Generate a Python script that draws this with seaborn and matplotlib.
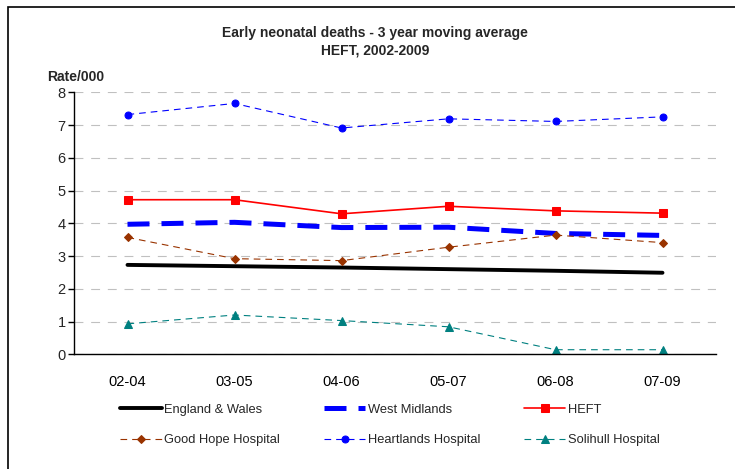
import numpy as np
import pandas as pd
import matplotlib
matplotlib.use("Agg")
import matplotlib.pyplot as plt
from matplotlib.patches import Rectangle
import seaborn as sns

periods = ["02-04", "03-05", "04-06", "05-07", "06-08", "07-09"]

england_wales = [2.73, 2.69, 2.65, 2.60, 2.55, 2.49]
west_midlands = [3.97, 4.03, 3.87, 3.88, 3.69, 3.63]
heft = [4.72, 4.72, 4.29, 4.52, 4.38, 4.31]
good_hope = [3.57, 2.92, 2.86, 3.27, 3.64, 3.41]
heartlands = [7.32, 7.66, 6.91, 7.19, 7.11, 7.25]
solihull = [0.93, 1.20, 1.03, 0.84, 0.14, 0.14]

df = pd.DataFrame({
    "period": periods,
    "England & Wales": england_wales,
    "West Midlands": west_midlands,
    "HEFT": heft,
    "Good Hope Hospital": good_hope,
    "Heartlands Hospital": heartlands,
    "Solihull Hospital": solihull,
})

# style per series: colour, width, dashes, marker, marker size
styles = {
    "England & Wales": dict(color="black", lw=2.8, dashes=None, marker=None, ms=0),
    "West Midlands": dict(color="#0000FF", lw=3.6, dashes=(4.4, 2.4), marker=None, ms=0),
    "HEFT": dict(color="#FF0000", lw=1.2, dashes=None, marker="s", ms=5.5),
    "Good Hope Hospital": dict(color="#993300", lw=0.8, dashes=(6, 4.5), marker="D", ms=3.8),
    "Heartlands Hospital": dict(color="#0000FF", lw=0.8, dashes=(6, 4.5), marker="o", ms=5),
    "Solihull Hospital": dict(color="#008080", lw=0.8, dashes=(6, 4.5), marker="^", ms=5.5),
}

sns.set_style("white")
plt.rcParams["font.family"] = ["Liberation Sans", "DejaVu Sans"]

fig = plt.figure(figsize=(7.35, 4.69), dpi=100)
ax = fig.add_axes([74 / 735, 1 - 354.3 / 469, (716 - 74) / 735, (354.3 - 92.3) / 469])

handles = {}
for name, st in styles.items():
    kw = dict(color=st["color"], linewidth=st["lw"])
    if st["marker"]:
        kw.update(marker=st["marker"], markersize=st["ms"],
                  markeredgecolor=st["color"], markerfacecolor=st["color"])
    sns.lineplot(data=df, x="period", y=name, ax=ax, sort=False, **kw)
    line = ax.lines[-1]
    if st["dashes"]:
        line.set_dashes(st["dashes"])
    handles[name] = line

ax.set_xlim(-0.5, 5.5)
ax.set_ylim(0, 8)
ax.set_yticks(range(0, 9))
ax.set_xticks(range(len(periods)))
ax.set_xticklabels(periods)
ax.set_xticks(np.arange(-0.5, 6, 1), minor=True)
ax.tick_params(axis="x", which="major", length=0, labelsize=10.5, pad=15, colors="black")
ax.tick_params(axis="x", which="minor", length=4, width=1, direction="out", color="black")
ax.tick_params(axis="y", length=4, width=1, direction="out", labelsize=10.5, pad=2, left=True, color="black")
ax.set_xlabel("")
ax.set_ylabel("")

ax.yaxis.grid(True, color="#c0c0c0", linewidth=0.8, linestyle=(0, (8, 7)))
ax.xaxis.grid(False)
for s in ["top", "right"]:
    ax.spines[s].set_visible(False)
for s in ["left", "bottom"]:
    ax.spines[s].set_color("black")
    ax.spines[s].set_linewidth(1.0)

fig.text(375 / 735, 1 - 42 / 469, "Early neonatal deaths - 3 year moving average\nHEFT, 2002-2009",
         ha="center", va="center", fontsize=10, fontweight="bold", linespacing=1.35)
fig.text(47 / 735, 1 - 77 / 469, "Rate/000", ha="left", va="center", fontsize=10, fontweight="bold")

order = ["England & Wales", "Good Hope Hospital", "West Midlands",
         "Heartlands Hospital", "HEFT", "Solihull Hospital"]
fig.legend([handles[n] for n in order], order, loc="center",
           bbox_to_anchor=(390 / 735, 1 - 425 / 469), ncol=3, frameon=False,
           fontsize=9.3, handlelength=3.2, handletextpad=0.2, columnspacing=3.4,
           labelspacing=1.4, numpoints=1)

# chart border (right and bottom edges fall outside the picture)
fig.patches.append(Rectangle((8 / 735, -0.1), 1.0, 1.1 - 7 / 469,
                             transform=fig.transFigure, fill=False,
                             edgecolor="black", linewidth=1.2))

fig.savefig("out.png", dpi=100)
